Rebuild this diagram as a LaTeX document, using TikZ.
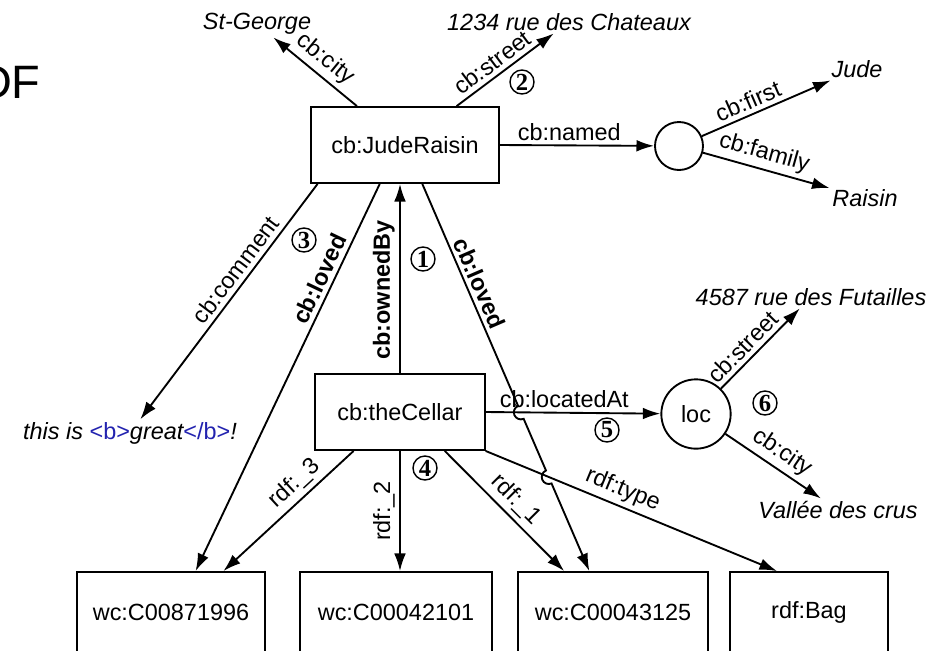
\documentclass[tikz,border=0pt]{standalone}
\usepackage{fontspec}
\setmainfont{Liberation Sans}
\newfontfamily\numfont{Liberation Serif}
\usetikzlibrary{arrows.meta,calc,intersections}
\definecolor{tagblue}{RGB}{35,35,175}
\begin{document}
\begin{tikzpicture}[x=0.015cm,y=-0.015cm,>={Latex[length=7.5pt,width=5pt]},
  every node/.style={font=\fontsize{10}{12}\selectfont},
  res/.style={draw,line width=0.8pt,minimum width=#1,minimum height=1.14cm,inner sep=0pt},
  blank/.style={draw,circle,line width=0.8pt,inner sep=0pt},
  lit/.style={inner sep=1pt,font=\fontsize{10}{12}\selectfont\itshape},
  edge/.style={->,line width=0.8pt},
  lbl/.style={inner sep=1.8pt},
  num/.style={draw,circle,line width=0.6pt,inner sep=0pt,minimum size=0.36cm,font=\numfont\bfseries\fontsize{10.5}{10.5}\selectfont}]
\useasboundingbox (0,0) rectangle (930,650);
\node[anchor=base east,inner sep=0pt,font=\fontsize{20}{24}\selectfont] (ttl) at (41,98) {DF};
\node[res=2.82cm] (jr) at (405,145) {cb:JudeRaisin};
\node[res=2.54cm] (cel) at (400,412) {cb:theCellar};
\node[blank,minimum size=0.72cm] (bn) at (679,146) {};
\node[blank,minimum size=1.04cm] (loc) at (696,414) {loc};
\node[res=2.82cm,minimum height=1.2cm] (w1) at (171,612) {wc:C00871996};
\node[res=2.88cm,minimum height=1.2cm] (w2) at (396,612) {wc:C00042101};
\node[res=2.85cm,minimum height=1.2cm] (w3) at (613,612) {wc:C00043125};
\node[res=2.37cm,minimum height=1.2cm] (bag) at (809,612) {rdf:Bag};
\node[lit] (stg) at (257,24) {St-George};
\node[lit] (st1) at (569,22) {1234 rue des Chateaux};
\node[lit] (jude) at (857,69) {Jude};
\node[lit] (rais) at (865,198) {Raisin};
\node[lit] (cmt) at (130,433) {this is \textcolor{tagblue}{\upshape<b>}great\textcolor{tagblue}{\upshape</b>}!};
\node[lit] (st2) at (811,297) {4587 rue des Futailles};
\node[lit] (vdc) at (838,510) {Vallée des crus};
\draw[edge] (jr.141) -- node[lbl,sloped,above] {cb:city} (stg);
\draw[edge] (jr.37) -- node[lbl,sloped,above,pos=0.45] {cb:street} (st1);
\draw[edge] (jr.east) -- node[lbl,above,pos=0.45] {cb:named} (bn);
\draw[edge] (bn) -- node[lbl,sloped,above,pos=0.4] {cb:first} (jude);
\draw[edge] (bn) -- node[lbl,sloped,above,pos=0.45] {cb:family} (rais);
\draw[edge] (jr.-156) -- node[lbl,sloped,above,pos=0.4] {cb:comment} (cmt);
\draw[edge] (jr.-123) -- node[lbl,sloped,above,pos=0.26] {\bfseries cb:loved} (w1.59);
\draw[edge] (cel.north) -- node[lbl,rotate=90,anchor=south,pos=0.44] {\bfseries cb:ownedBy} (cel.north |- jr.south);
\draw[edge,name path=locat] (cel.east) -- node[lbl,above,pos=0.45] {cb:locatedAt} (loc);
\draw[edge] (loc) -- node[lbl,sloped,above,pos=0.4] {cb:street} (st2);
\draw[edge] (loc) -- node[lbl,sloped,above] {cb:city} (vdc);
\draw[edge] (cel.-140) -- node[lbl,sloped,above,pos=0.37] {rdf:\_3} (w1.38);
\draw[edge] (cel.south) -- node[lbl,rotate=90,anchor=south] {rdf:\_2} (cel.south |- w2.north);
\draw[edge] (cel.-41) -- node[lbl,sloped,above] {rdf:\_1} (w3.140);
\draw[edge,name path=rtype] (cel.south east) -- node[lbl,sloped,above,pos=0.45] {rdf:type} (bag.128);
\path[name path=lovr] (jr.-66) -- node[lbl,sloped,above,pos=0.27] {\bfseries cb:loved} (w3.120);
\path[name intersections={of=lovr and locat,by=h1}];
\path[name intersections={of=lovr and rtype,by=h2}];
\draw[edge] (jr.-66) -- ($(h1)!3pt!(jr.-66)$) arc[start angle=113.3,delta angle=180,radius=3pt]
  -- ($(h2)!3pt!(jr.-66)$) arc[start angle=113.3,delta angle=180,radius=3pt] -- (w3.120);
\foreach \k/\x/\y in {1/423/259,2/522/82,3/304/240,4/425/468,5/607/430,6/765/403}
  \node[num] (n\k) at (\x,\y) {\k};
\end{tikzpicture}
\end{document}
